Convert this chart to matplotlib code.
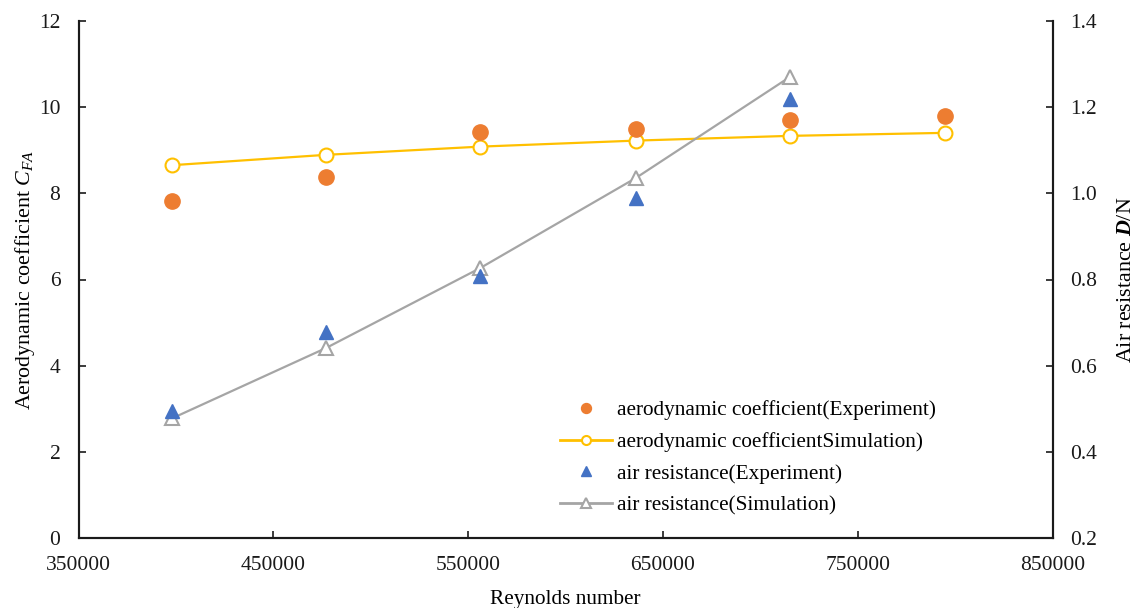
import matplotlib
matplotlib.use("Agg")
import matplotlib.pyplot as plt
from matplotlib.ticker import FormatStrFormatter, FixedLocator

plt.rcParams['font.family'] = ['Liberation Serif', 'DejaVu Serif']
plt.rcParams['mathtext.fontset'] = 'custom'
plt.rcParams['mathtext.rm'] = 'Liberation Serif'
plt.rcParams['mathtext.it'] = 'Liberation Serif:italic'
plt.rcParams['mathtext.bf'] = 'Liberation Serif:bold:italic'

# Data
reynolds = [398000, 477000, 556000, 636000, 715000, 795000]
cfa_exp = [7.81, 8.38, 9.41, 9.48, 9.70, 9.79]
cfa_sim = [8.65, 8.89, 9.08, 9.22, 9.33, 9.40]
drag_re = [398000, 477000, 556000, 636000, 715000]
drag_exp = [0.494, 0.679, 0.807, 0.988, 1.219]
drag_sim = [0.478, 0.641, 0.826, 1.035, 1.269]

xticks = [350000, 450000, 550000, 650000, 750000, 850000]
yticks_left = [0, 2, 4, 6, 8, 10, 12]
yticks_right = [0.2, 0.4, 0.6, 0.8, 1.0, 1.2, 1.4]

c_orange = '#ED7D31'
c_yellow = '#FFC000'
c_blue = '#4472C4'
c_grey = '#A5A5A5'

fig = plt.figure(figsize=(11.34, 6.08), dpi=100)
ax = fig.add_axes([78.5/1134, 1 - 538.3/608, (1052.5-78.5)/1134, (538.3-20.7)/608])
ax2 = ax.twinx()

l1, = ax.plot(reynolds, cfa_exp, linestyle='none', marker='o', ms=11,
              color=c_orange, markeredgecolor=c_orange, zorder=3)
l2, = ax.plot(reynolds, cfa_sim, linestyle='-', lw=1.6, marker='o', ms=10,
              color=c_yellow, markerfacecolor='white', markeredgewidth=1.5,
              markeredgecolor=c_yellow, zorder=2)
l3, = ax2.plot(drag_re, drag_exp, linestyle='none', marker='^', ms=10.5,
               color=c_blue, markeredgecolor=c_blue, zorder=3)
l4, = ax2.plot(drag_re, drag_sim, linestyle='-', lw=1.6, marker='^', ms=10,
               color=c_grey, markerfacecolor='white', markeredgewidth=1.5,
               markeredgecolor=c_grey, zorder=2)

ax.set_xlim(350000, 850000)
ax.set_ylim(0, 12)
ax2.set_ylim(0.2, 1.4)
ax.xaxis.set_major_locator(FixedLocator(xticks))
ax.yaxis.set_major_locator(FixedLocator(yticks_left))
ax2.yaxis.set_major_locator(FixedLocator(yticks_right))
ax.set_xticklabels([str(v) for v in xticks])
ax2.yaxis.set_major_formatter(FormatStrFormatter('%.1f'))

for a in (ax, ax2):
    a.spines['top'].set_visible(False)
    for s in a.spines.values():
        s.set_linewidth(1.5)
        s.set_color('#1a1a1a')
    a.tick_params(direction='in', length=5, width=1.2, labelsize=15.5, colors='#1a1a1a')
ax.tick_params(axis='y', pad=13)
ax.tick_params(axis='x', pad=13)
ax2.tick_params(axis='y', pad=13)

ax.set_xlabel('Reynolds number', fontsize=15.3, labelpad=10.5)
ax.set_ylabel(r'Aerodynamic coefficient $C_{FA}$', fontsize=15.8, labelpad=1.5)
ax2.set_ylabel(r'Air resistance $\mathbf{D}$/N', fontsize=15.8, labelpad=14)

leg = ax2.legend([l1, l2, l3, l4],
                 ['aerodynamic coefficient(Experiment)',
                  'aerodynamic coefficientSimulation)',
                  'air resistance(Experiment)',
                  'air resistance(Simulation)'],
                 loc='upper left', bbox_to_anchor=(541/1134, 1 - 381/608),
                 bbox_transform=fig.transFigure, frameon=False, fontsize=15.3,
                 handlelength=2.45, handletextpad=0.24, labelspacing=0.565,
                 markerscale=0.65)
for ln in leg.get_lines():
    ln.set_linewidth(2.0)

fig.savefig('out.png', dpi=100)
